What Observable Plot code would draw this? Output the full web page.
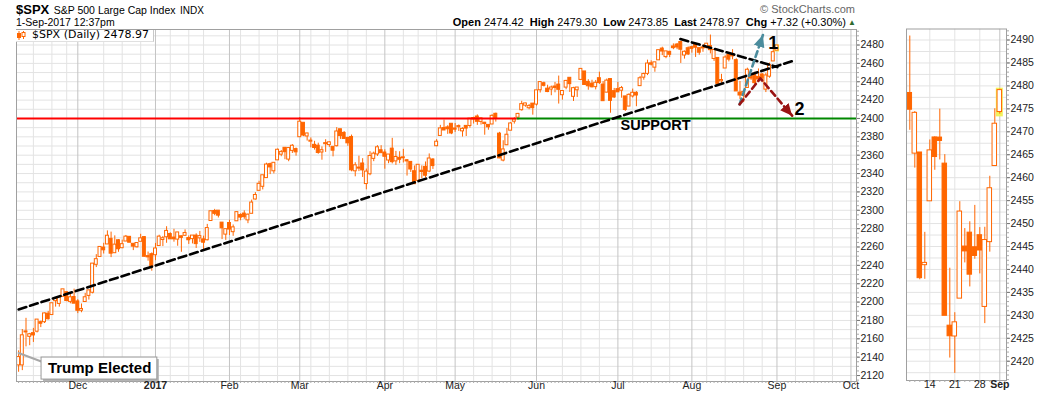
<!DOCTYPE html>
<html><head><meta charset="utf-8">
<script src="https://cdn.jsdelivr.net/npm/d3@7"></script>
<script src="https://cdn.jsdelivr.net/npm/@observablehq/plot@0.6"></script>
<style>
html,body{margin:0;padding:0;background:#fff;}
#wrap{position:relative;width:1050px;height:396px;overflow:hidden;font-family:Arial,"Liberation Sans",sans-serif;color:#000;}
.abs{position:absolute;white-space:nowrap;}
</style></head><body>
<div id="wrap">
  <div id="main" class="abs" style="left:0;top:0"></div>
  <div id="side" class="abs" style="left:890px;top:0"></div>
  <div class="abs" style="left:16px;top:2px;line-height:13px;"><b style="font-size:13px">$SPX</b> <span style="font-size:10.5px">S&amp;P 500 Large Cap Index</span> <span style="font-size:10px">INDX</span></div>
  <div class="abs" style="left:16px;top:16.4px;line-height:12px;font-size:10.5px;">1-Sep-2017 12:37pm</div>
  <div class="abs" style="right:195px;top:3px;line-height:12px;font-size:11px;color:#666;">&#169; StockCharts.com</div>
  <div class="abs" style="right:204px;top:16.2px;line-height:12px;font-size:11px;"><b>Open</b> 2474.42&nbsp; <b>High</b> 2479.30&nbsp; <b>Low</b> 2473.85&nbsp; <b>Last</b> 2478.97&nbsp; <b>Chg</b> +7.32 (+0.30%)</div>
  <div class="abs" style="left:848px;top:19px;font-size:8px;line-height:8px;color:#2e6b2e;">&#9650;</div>
  <div class="abs" style="left:16px;top:29.5px;width:137px;height:11px;background:#fff;border-right:1px solid #c8c8c8;border-bottom:1px solid #e0e0e0;"></div>
  <svg class="abs" style="left:17px;top:31px" width="9" height="9"><line x1="2" y1="0" x2="2" y2="9" stroke="#ff6600"/><rect x="0.5" y="2.5" width="3" height="4" fill="#ff6600" stroke="#ff6600"/><line x1="6.5" y1="0" x2="6.5" y2="8" stroke="#ff6600"/><rect x="5" y="1.5" width="3" height="4" fill="#fff" stroke="#ff6600"/></svg>
  <div class="abs" style="left:32px;top:29.2px;line-height:11px;font-size:11px;font-family:'DejaVu Sans',Verdana,sans-serif;">$SPX (Daily) 2478.97</div>
</div>
<script>
// ---------- DATA ----------
// Daily OHLC of $SPX, 8-Nov-2016 .. 1-Sep-2017 (one value per trading day)
const open = [2131.56,2131.56,2167.49,2162.71,2165.64,2168.29,2177.53,2178.61,2186.85,2186.43,2201.56,2198.55,2206.27,2210.21,2200.76,2204.97,
2200.17,2191.12,2200.65,2207.26,2210.72,2241.13,2249.73,2258.83,2263.32,2268.35,2253.77,2266.81,2259.24,2266.50,2270.54,2262.93,2260.25,2266.23,2270.23,2249.50,2251.61,
2251.57,2261.60,2268.18,2271.14,2273.59,2269.72,2268.60,2271.14,2272.74,2269.14,2269.14,2271.90,2269.96,2267.78,2267.88,2288.88,2298.63,2299.02,2286.01,2274.02,
2285.59,2276.69,2288.54,2294.28,2295.87,2289.55,2296.70,2312.27,2321.72,2326.12,2335.58,2349.64,2343.01,2354.91,2361.11,2367.50,2355.73,2365.23,2366.08,
2380.13,2394.75,2380.92,2375.23,2370.74,2369.81,2363.49,2372.52,2371.56,2368.55,2370.34,2387.71,2383.71,2378.24,2379.32,2343.00,2345.97,2350.42,2329.11,2339.79,2356.54,2361.31,2364.82,
2362.34,2354.76,2366.59,2353.79,2356.59,2357.16,2353.92,2352.15,2341.98,2332.62,2342.53,2346.79,2342.69,2354.74,2370.33,2381.51,2388.98,2389.70,2393.68,
2388.50,2391.05,2386.50,2391.36,2392.37,2399.94,2401.58,2396.79,2394.84,2392.44,2393.98,2404.55,2382.95,2354.69,2371.37,2387.21,2397.04,2401.41,2409.54,2414.50,2411.67,2415.63,
2415.65,2431.28,2437.83,2431.92,2432.03,2434.27,2436.39,2425.88,2434.15,2443.75,2424.14,2431.24,2442.55,2450.66,2439.31,2437.40,2434.65,2443.32,2436.34,2428.70,2442.38,2429.20,
2431.39,2430.78,2423.44,2413.52,2424.51,2427.35,2435.75,2444.99,2449.16,2459.50,2455.88,2463.85,2475.56,2467.40,2472.04,2477.88,2479.97,2482.76,2469.12,2475.94,
2477.10,2480.38,2476.03,2476.88,2477.14,2478.35,2465.35,2465.38,2441.04,2454.96,2468.66,2468.63,2462.95,2427.64,2425.50,2433.75,2444.88,2447.91,2444.72,2447.35,2431.94,2446.06,2462.65,
2474.42];
const high = [2146.87,2170.10,2182.30,2165.92,2171.36,2180.84,2179.22,2188.06,2189.89,2198.70,2204.80,2204.72,2213.35,2211.14,2210.46,2214.10,
2202.60,2197.95,2209.42,2212.78,2241.63,2251.69,2259.80,2264.03,2277.53,2276.20,2272.12,2268.05,2267.47,2272.56,2271.23,2263.18,2263.79,2273.82,2271.31,2254.51,2253.58,
2263.88,2272.82,2271.50,2282.10,2275.49,2279.27,2275.32,2271.78,2278.68,2272.08,2272.01,2274.33,2276.96,2271.78,2284.63,2299.55,2300.99,2299.02,2286.01,2279.09,
2289.14,2283.97,2298.31,2296.18,2299.40,2295.91,2311.08,2319.23,2331.58,2337.58,2351.30,2351.31,2351.16,2366.71,2365.13,2368.26,2367.34,2371.54,2367.79,
2400.98,2394.75,2383.89,2378.80,2375.12,2373.09,2369.08,2376.86,2374.42,2368.55,2390.01,2388.10,2385.71,2379.55,2381.93,2351.81,2358.92,2356.22,2344.90,2363.78,2363.36,2370.42,2370.35,
2365.87,2360.53,2378.36,2364.16,2363.76,2366.37,2355.22,2352.72,2348.26,2349.14,2348.35,2352.63,2361.37,2356.18,2376.98,2392.48,2398.16,2392.10,2393.68,
2394.49,2392.93,2389.82,2391.43,2399.29,2401.36,2403.87,2399.74,2395.72,2392.44,2404.05,2405.77,2384.87,2375.74,2389.06,2395.46,2400.85,2405.58,2418.71,2416.68,2415.26,2415.99,
2430.06,2440.23,2439.55,2436.21,2435.28,2439.27,2446.20,2430.38,2441.49,2443.75,2433.95,2433.15,2453.82,2450.66,2442.23,2441.62,2441.40,2450.42,2440.15,2442.97,2442.73,2432.71,
2439.17,2434.90,2424.28,2426.92,2432.00,2429.30,2445.76,2449.32,2463.54,2462.82,2460.92,2473.83,2477.62,2472.54,2473.10,2481.24,2481.69,2484.04,2473.53,2477.96,
2478.51,2480.38,2476.03,2480.00,2480.95,2490.87,2474.41,2465.38,2448.09,2468.22,2468.90,2474.93,2465.02,2440.27,2430.58,2454.77,2448.91,2450.39,2453.96,2449.12,2449.19,2460.31,2475.01,
2479.30];
const low = [2123.56,2125.35,2151.17,2152.49,2156.08,2166.38,2172.20,2176.65,2180.38,2186.43,2194.51,2194.51,2206.27,2200.36,2198.15,2198.81,
2187.44,2188.37,2199.97,2202.21,2208.93,2237.57,2249.23,2252.37,2263.32,2248.44,2253.77,2254.24,2258.21,2266.14,2265.15,2256.08,2258.84,2266.15,2249.11,2244.56,2233.62,
2245.13,2261.60,2260.45,2264.06,2268.90,2265.27,2260.83,2254.25,2271.51,2262.81,2263.35,2258.41,2265.01,2257.02,2266.68,2288.88,2294.08,2291.62,2268.04,2267.21,
2272.44,2271.65,2287.88,2288.57,2290.16,2285.38,2296.61,2311.10,2321.42,2322.17,2334.81,2338.87,2339.58,2354.91,2358.34,2355.09,2352.87,2361.87,2358.96,
2380.13,2380.17,2375.39,2367.98,2365.51,2361.01,2354.54,2363.04,2368.52,2358.18,2368.94,2377.18,2377.64,2369.66,2341.90,2336.45,2342.13,2335.74,2322.25,2337.63,2352.94,2358.58,2362.60,
2344.73,2350.72,2350.52,2348.90,2350.74,2351.50,2337.25,2341.18,2328.95,2332.51,2334.54,2335.05,2340.91,2344.51,2369.19,2381.15,2386.78,2382.68,2382.36,
2384.83,2385.82,2379.75,2380.35,2389.38,2393.92,2392.44,2392.79,2381.74,2387.19,2393.94,2396.05,2356.21,2352.72,2370.43,2386.92,2393.88,2397.99,2408.01,2412.20,2409.43,2403.59,
2413.54,2427.71,2434.32,2428.12,2424.75,2427.94,2415.70,2419.97,2431.28,2428.34,2418.53,2422.88,2441.79,2436.60,2430.74,2433.27,2431.11,2437.03,2419.38,2428.02,2405.70,2421.65,
2428.69,2422.05,2407.70,2413.52,2422.27,2412.79,2435.75,2441.69,2446.69,2457.16,2450.34,2463.85,2468.43,2465.06,2466.32,2474.91,2474.94,2459.93,2464.66,2468.53,
2471.14,2466.48,2468.85,2472.08,2475.88,2470.32,2462.08,2437.75,2437.85,2454.96,2461.61,2463.86,2430.01,2420.69,2417.35,2433.67,2441.42,2436.19,2442.22,2439.03,2428.20,2443.77,2462.65,
2473.85];
const close = [2139.56,2163.26,2167.48,2164.45,2164.20,2180.39,2176.94,2187.12,2181.90,2198.18,2202.94,2204.72,2213.35,2201.72,2204.66,2198.81,
2191.08,2191.95,2204.71,2212.23,2241.35,2246.19,2259.53,2256.96,2271.72,2253.28,2262.03,2258.07,2262.53,2270.76,2265.18,2260.96,2263.79,2268.88,2249.92,2249.26,2238.83,
2257.83,2270.75,2269.00,2276.98,2268.90,2268.90,2275.32,2270.44,2274.64,2267.89,2271.89,2263.69,2271.31,2265.20,2280.07,2298.37,2296.68,2294.69,2280.90,2278.87,
2279.55,2280.85,2297.42,2292.56,2293.08,2294.67,2307.87,2316.10,2328.25,2337.58,2349.25,2347.22,2351.16,2365.38,2362.82,2363.81,2367.34,2369.75,2363.64,
2395.96,2381.92,2383.12,2375.31,2368.39,2362.98,2364.87,2372.60,2373.47,2365.45,2385.26,2381.38,2378.25,2373.47,2344.02,2348.45,2345.96,2343.98,2341.59,2358.57,2361.13,2368.06,2362.72,
2358.84,2360.16,2352.95,2357.49,2355.54,2357.16,2353.78,2344.93,2328.95,2349.01,2342.19,2338.17,2355.84,2348.69,2374.15,2388.61,2387.45,2388.77,2384.20,
2388.33,2391.17,2388.13,2389.52,2399.29,2399.38,2396.92,2399.63,2394.44,2390.90,2402.32,2400.67,2357.03,2365.72,2381.73,2394.02,2398.42,2404.39,2415.07,2415.82,2412.91,2411.80,
2430.06,2439.07,2436.10,2429.33,2433.14,2433.79,2431.77,2429.39,2440.35,2437.92,2432.46,2433.15,2453.46,2437.03,2435.61,2434.50,2438.30,2439.07,2419.38,2440.69,2419.70,2423.41,
2429.01,2432.54,2409.75,2425.18,2427.43,2425.53,2443.25,2447.83,2459.27,2459.14,2460.61,2473.83,2473.45,2472.54,2469.91,2477.13,2477.83,2475.42,2472.10,2470.30,
2476.35,2477.57,2472.16,2476.83,2480.91,2474.92,2474.02,2438.21,2441.32,2465.84,2464.61,2468.11,2430.01,2425.55,2428.37,2452.51,2444.04,2438.97,2443.05,2444.24,2446.30,2457.59,2471.65,
2478.97];
// market holidays in the displayed span
const holidays = ["2016-11-24","2016-12-26","2017-01-02","2017-01-16","2017-02-20","2017-04-14","2017-05-29","2017-07-04","2017-09-04"];
const monthLabels = ["Dec","2017","Feb","Mar","Apr","May","Jun","Jul","Aug","Sep","Oct"];
const sideTickLabels = ["14","21","28","Sep"];
const yTicksMain = d3.range(2120, 2481, 20);
const yTicksSide = d3.range(2420, 2491, 5);
// annotations, in [trading-day index, index level]
const trendLong  = [[0, 2192], [210, 2463.6]];
const trendUpper = [[178.9, 2486.5], [205.1, 2456]];
const arrowUp    = [[194.9, 2415.4], [201.2, 2490.9]];
const arrowDown  = [[194.9, 2415.4], [200.5, 2443.7], [209.1, 2403]];
const supportLevel = 2400, supportSplit = 134.8;
const labels12 = [{x: 204, y: 2481.5, t: "1"}, {x: 211.1, y: 2410.5, t: "2"}];
const supportNote = {x: 162.7, y: 2393, t: "SUPPORT"};
const trumpPointer = [[0, 2144.5], [6.5, 2134.7]];
const trumpBox = {x1: 6.2, x2: 37.5, y1: 2115.6, y2: 2139.6, cx: 21.9, cy: 2128.1, t: "Trump Elected"};

// ---------- CALENDAR ----------
const days = [];
for (let t = Date.UTC(2016, 10, 8); t <= Date.UTC(2017, 9, 6); t += 864e5) {
  const d = new Date(t), wd = d.getUTCDay(), s = d.toISOString().slice(0, 10);
  if (wd === 0 || wd === 6 || holidays.includes(s)) continue;
  days.push(d);
}
const monthIdx = [], weekIdx = [];
days.forEach((d, i) => {
  if (i === 0) return;
  const p = days[i - 1];
  if (d.getUTCMonth() !== p.getUTCMonth()) monthIdx.push(i);
  if (d.getUTCDay() < p.getUTCDay() || d - p >= 7 * 864e5) weekIdx.push(i);
});
const weekOnly = weekIdx.filter(i => !monthIdx.some(m => Math.abs(m - i) < 3));
const monthTicks = monthIdx.map((i, k) => ({i, label: monthLabels[k]})).filter(d => d.label);

const candles = open.map((o, i) => ({x: i, o, h: high[i], l: low[i], c: close[i]}));
const last = candles[candles.length - 1];

const ORANGE = "#ff6600";
const FONT = "Arial, 'Liberation Sans', sans-serif";
const plain = d => String(d);

function headMarker(color) {
  const m = d3.create("svg:marker")
    .attr("viewBox", "-12 -6 12 12")
    .attr("markerWidth", 12).attr("markerHeight", 12)
    .attr("markerUnits", "userSpaceOnUse")
    .attr("orient", "auto");
  m.append("path").attr("d", "M-12,-5.5L0,0L-12,5.5Z").attr("fill", color).attr("stroke", "none");
  return m.node();
}

function candleMarks(data, halfW) {
  return [
    Plot.ruleX(data, {x: "x", y1: "l", y2: "h", stroke: ORANGE, strokeWidth: 1}),
    Plot.rect(data, {x1: d => d.x - halfW, x2: d => d.x + halfW, y1: "o", y2: "c",
      fill: d => d.c >= d.o ? "#ffffff" : ORANGE, stroke: ORANGE, strokeWidth: 1,
      insetTop: -0.5, insetBottom: -0.5})
  ];
}

// ---------- MAIN PANEL ----------
const mainX = [-0.57, 226.5];
const mainY = [2113.5, 2496.9];
const main = Plot.plot({
  width: 890, height: 396,
  marginLeft: 16, marginRight: 34, marginTop: 29, marginBottom: 15,
  x: {domain: mainX, label: null},
  y: {domain: mainY, label: null},
  style: {fontFamily: FONT, fontSize: "10.5px", background: "transparent", overflow: "visible"},
  marks: [
    Plot.ruleY(d3.range(2120, 2491, 10), {stroke: "#e3e3e3"}),
    Plot.ruleX(weekOnly, {stroke: "#e3e3e3"}),
    Plot.ruleX(monthIdx, {stroke: "#c4c4c4"}),
    Plot.rect([last], {x1: d => d.x - 0.7, x2: d => d.x + 0.7, y1: d => d.l - 1.4, y2: d => d.h + 0.7, fill: "#f2f25a"}),
    ...candleMarks(candles, 0.4),
    Plot.ruleY([{x1: mainX[0], x2: supportSplit, c: "#ff0000"}, {x1: supportSplit, x2: mainX[1], c: "#008800"}],
      {y: () => supportLevel, x1: "x1", x2: "x2", stroke: "c", strokeWidth: 2}),
    Plot.line(trendLong, {x: d => d[0], y: d => d[1], stroke: "#000", strokeWidth: 2.6, strokeDasharray: "8,4"}),
    Plot.line(trendUpper, {x: d => d[0], y: d => d[1], stroke: "#000", strokeWidth: 2.6, strokeDasharray: "8,4"}),
    Plot.line(arrowUp, {x: d => d[0], y: d => d[1], stroke: "#4b8c9d", strokeWidth: 2.6, strokeDasharray: "6,4", markerEnd: headMarker}),
    Plot.line(arrowDown, {x: d => d[0], y: d => d[1], stroke: "#9a1414", strokeWidth: 2.6, strokeDasharray: "6,4", markerEnd: headMarker}),
    Plot.text(labels12, {x: "x", y: "y", text: "t", fontSize: 18, fontWeight: "bold", fill: "#000"}),
    Plot.text([supportNote], {x: "x", y: "y", text: "t", fontSize: 14.5, fontWeight: "bold", textAnchor: "start", fill: "#000"}),
    Plot.line(trumpPointer, {x: d => d[0], y: d => d[1], stroke: "#a8a8a8", strokeWidth: 2}),
    Plot.rect([trumpBox], {x1: "x1", x2: "x2", y1: "y1", y2: "y2", fill: "#b4b4b4", dx: 2, dy: 2}),
    Plot.rect([trumpBox], {x1: "x1", x2: "x2", y1: "y1", y2: "y2", fill: "#fff", stroke: "#999", strokeWidth: 1}),
    Plot.text([trumpBox], {x: "cx", y: "cy", text: "t", fontSize: 15, fontWeight: "bold", fill: "#000"}),
    Plot.frame({stroke: "#a0a0a0"}),
    Plot.axisY({anchor: "right", ticks: d3.range(2115, 2496, 5), tickSize: 2, tickFormat: () => "", stroke: "#aaa", label: null}),
    Plot.axisY({anchor: "right", ticks: yTicksMain, tickFormat: plain, tickSize: 3, tickPadding: 1, stroke: "#777", fill: "#222", label: null}),
    Plot.axisX({anchor: "bottom", ticks: d3.range(0, 227), tickSize: 2, tickFormat: () => "", stroke: "#aaa", label: null}),
    Plot.text(monthTicks.filter(d => !/^\d{4}$/.test(d.label)), {x: "i", text: "label", frameAnchor: "bottom", dy: 7.5, fill: "#222"}),
    Plot.text(monthTicks.filter(d => /^\d{4}$/.test(d.label)), {x: "i", text: "label", frameAnchor: "bottom", dy: 7.5, fontWeight: "bold", fill: "#222"})
  ]
});
document.getElementById("main").appendChild(main);

// ---------- SIDE PANEL (last weeks zoom) ----------
const base = 187; // first full candle of side panel
const sideData = candles.slice(base - 1).map(d => ({...d, x: d.x - base}));
const sideLast = sideData[sideData.length - 1];
const sideMonth = monthIdx.filter(i => i >= base - 1 && i < candles.length).map(i => i - base);
const sideWeek = weekIdx.filter(i => i >= base && i < candles.length && !monthIdx.includes(i)).map(i => i - base);
const sideTickPos = [...sideWeek, ...sideMonth].sort((a, b) => a - b);
const sideTicks = sideTickPos.map((x, k) => ({x, label: sideTickLabels[k]}));
const side = Plot.plot({
  width: 160, height: 396,
  marginLeft: 16, marginRight: 44, marginTop: 28.5, marginBottom: 16,
  x: {domain: [-0.66, 19.34], label: null},
  y: {domain: [2415.8, 2492.4], label: null},
  clip: true,
  style: {fontFamily: FONT, fontSize: "10.5px", background: "transparent", overflow: "visible"},
  marks: [
    Plot.ruleY(d3.range(2417.5, 2492, 2.5), {stroke: "#e3e3e3"}),
    Plot.ruleX(sideWeek, {stroke: "#e3e3e3"}),
    Plot.ruleX(sideMonth, {stroke: "#c4c4c4"}),
    Plot.rect([sideLast], {x1: d => d.x - 0.7, x2: d => d.x + 0.7, y1: d => d.l - 0.6, y2: d => d.h + 0.2, fill: "#f2f25a"}),
    ...candleMarks(sideData, 0.45),
    Plot.frame({stroke: "#a0a0a0"}),
    Plot.axisY({anchor: "right", ticks: d3.range(2416, 2493, 1), tickSize: 2, tickFormat: () => "", stroke: "#aaa", label: null, clip: false}),
    Plot.axisY({anchor: "right", ticks: yTicksSide, tickFormat: plain, tickSize: 3, tickPadding: 1, stroke: "#777", fill: "#222", label: null, clip: false}),
    Plot.axisX({anchor: "bottom", ticks: d3.range(0, 20), tickSize: 2, tickFormat: () => "", stroke: "#aaa", label: null, clip: false}),
    Plot.text(sideTicks.filter(d => d.label !== "Sep"), {x: "x", text: "label", frameAnchor: "bottom", dy: 7.5, fill: "#222", clip: false}),
    Plot.text(sideTicks.filter(d => d.label === "Sep"), {x: "x", text: "label", frameAnchor: "bottom", dy: 7.5, fontWeight: "bold", fill: "#222", clip: false})
  ]
});
document.getElementById("side").appendChild(side);
</script>
</body></html>
